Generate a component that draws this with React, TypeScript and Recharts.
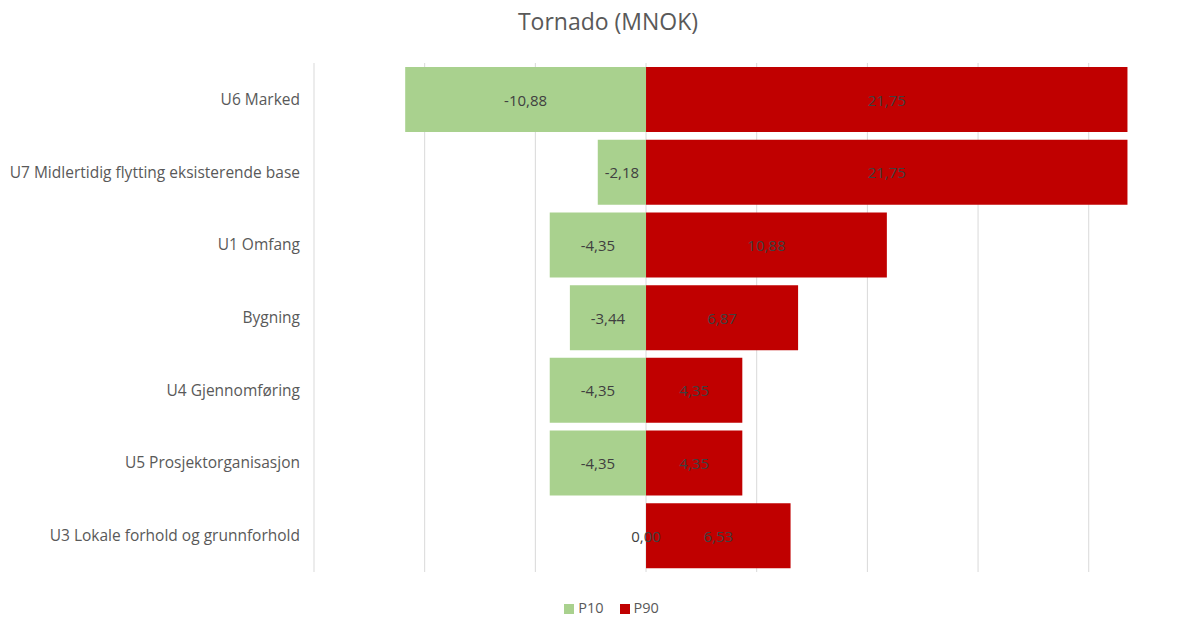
import React from 'react';
import { BarChart, Bar, XAxis, YAxis, CartesianGrid, Legend, LabelList } from 'recharts';

const categories = [
  'U6 Marked',
  'U7 Midlertidig flytting eksisterende base',
  'U1 Omfang',
  'Bygning',
  'U4 Gjennomføring',
  'U5 Prosjektorganisasjon',
  'U3 Lokale forhold og grunnforhold',
];
const p10 = [-10.88, -2.18, -4.35, -3.44, -4.35, -4.35, 0.0];
const p90 = [21.75, 21.75, 10.88, 6.87, 4.35, 4.35, 6.53];
const xTicks = [-15, -10, -5, 0, 5, 10, 15, 20];
const xDomain = [-15, 22];

const data = categories.map((name, i) => ({ name, P10: p10[i], P90: p90[i] }));

const fmt = (v: any) => Number(v).toFixed(2).replace('.', ',');
const font = '"Open Sans", sans-serif';

const labelText = (x: number, y: number, value: any) => (
  <text
    x={x}
    y={y}
    textAnchor="middle"
    dominantBaseline="central"
    fill="#404040"
    fontSize={15}
    fontFamily={font}
  >
    {fmt(value)}
  </text>
);

const renderLabel = (props: any) => {
  const { x, y, width, height, value } = props;
  if (Number(value) === 0) return null;
  return labelText(Number(x) + Number(width) / 2, Number(y) + Number(height) / 2, value);
};

// a zero P10 bar has no width, so its label is drawn from the P90 bar (starts at 0)
const renderZeroLabel = (props: any) => {
  const { x, y, height, value } = props;
  if (Number(value) !== 0) return null;
  return labelText(Number(x), Number(y) + Number(height) / 2, value);
};

const gridX = ({ xAxis, offset }: any) =>
  xTicks.map((t) =>
    xAxis && typeof xAxis.scale === 'function'
      ? xAxis.scale(t)
      : offset.left + ((t - xDomain[0]) / (xDomain[1] - xDomain[0])) * offset.width
  );

export default function App() {
  return (
    <div style={{ position: 'relative', width: 1180, height: 609, fontFamily: font }}>
      <div
        style={{
          position: 'absolute',
          top: -3,
          left: 0,
          width: 1200,
          textAlign: 'center',
          fontSize: 23,
          color: '#595959',
        }}
      >
        Tornado (MNOK)
      </div>
      <BarChart
        width={1180}
        height={609}
        data={data}
        layout="vertical"
        stackOffset="sign"
        barCategoryGap={4}
        margin={{ top: 55, right: 55, left: 0, bottom: 26 }}
      >
        <CartesianGrid horizontal={false} stroke="#d9d9d9" verticalCoordinatesGenerator={gridX} />
        <XAxis
          type="number"
          domain={xDomain}
          ticks={xTicks}
          allowDataOverflow
          tick={false}
          axisLine={false}
          tickLine={false}
          height={0}
        />
        <YAxis
          type="category"
          dataKey="name"
          width={306}
          axisLine={false}
          tickLine={false}
          tickMargin={8}
          tick={{ fill: '#595959', fontSize: 15.5, fontFamily: font }}
        />
        <Legend
          verticalAlign="bottom"
          iconType="square"
          iconSize={10}
          wrapperStyle={{ fontSize: 14.5, fontFamily: font, bottom: 0, paddingLeft: 49 }}
          formatter={(v: any) => <span style={{ color: '#595959', paddingRight: 6 }}>{v}</span>}
        />
        <Bar dataKey="P10" stackId="a" fill="#a9d18e" isAnimationActive={false}>
          <LabelList dataKey="P10" content={renderLabel} />
        </Bar>
        <Bar dataKey="P90" stackId="a" fill="#c00000" isAnimationActive={false}>
          <LabelList dataKey="P90" content={renderLabel} />
          <LabelList dataKey="P10" content={renderZeroLabel} />
        </Bar>
      </BarChart>
    </div>
  );
}
